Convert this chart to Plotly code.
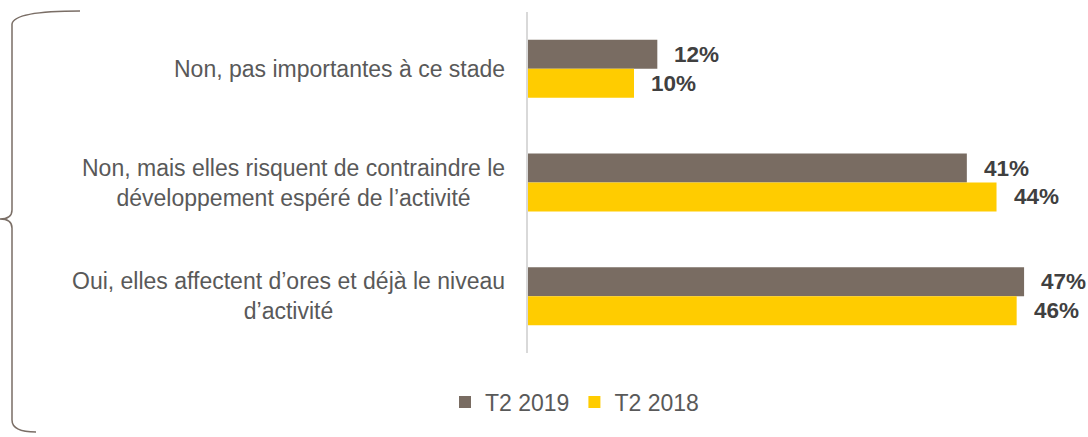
import plotly.graph_objects as go

# ---- data ----
categories = [
    "Non, pas importantes à ce stade",
    "Non, mais elles risquent de contraindre le<br>développement espéré de l’activité",
    "Oui, elles affectent d’ores et déjà le niveau<br>d’activité",
]
series_names = ["T2 2019", "T2 2018"]
values_2019 = [12.2, 41.4, 46.8]
values_2018 = [10.0, 44.2, 46.1]
labels_2019 = ["12%", "41%", "47%"]
labels_2018 = ["10%", "44%", "46%"]

colors = ["#796c62", "#ffcc00"]

W, H = 1088, 437
L, R, T, B = 528, 8, 12, 84
BARGAP = 0.49
FONT = "Liberation Sans, Arial, sans-serif"

fig = go.Figure()
cat_ids = list(range(len(categories)))
for name, vals, col in zip(series_names, [values_2019, values_2018], colors):
    fig.add_trace(go.Bar(
        y=cat_ids, x=vals, name=name, orientation="h",
        marker=dict(color=col, line=dict(width=0)),
        hoverinfo="skip",
    ))

# value labels
off = (1 - BARGAP) / 4
annotations = []
for k, (vals, labs) in enumerate([(values_2019, labels_2019), (values_2018, labels_2018)]):
    sign = -1 if k == 0 else 1
    for i, (v, lab) in enumerate(zip(vals, labs)):
        annotations.append(dict(
            x=v, y=i + sign * off, xref="x", yref="y", text=lab,
            showarrow=False, xanchor="left", yanchor="middle", xshift=15,
            font=dict(family=FONT, size=22.5, color="#404040", weight="bold"),
        ))

# category labels (centered multi-line)
for i, c in enumerate(categories):
    annotations.append(dict(
        x=0, y=i, xref="paper", yref="y", text=c, showarrow=False,
        xanchor="right", yanchor="middle", align="center", xshift=-21,
        font=dict(family=FONT, size=23, color="#595959"),
    ))

# brace on the left (pixel -> paper)
pw, ph = W - L - R, H - T - B
def px(x):
    return (x - L) / pw
def py(y):
    return (H - B - y) / ph

pts = [
    ("M", [(80, 11)]),
    ("Q", [(14, 11), (12, 24)]),
    ("L", [(12, 210)]),
    ("Q", [(12, 219), (0, 219)]),
    ("Q", [(12, 219), (12, 228)]),
    ("L", [(12, 420)]),
    ("Q", [(12, 432), (36, 432)]),
]
path = " ".join(cmd + " " + " ".join(f"{px(a):.5f},{py(b):.5f}" for a, b in p) for cmd, p in pts)

fig.update_layout(
    width=W, height=H,
    margin=dict(l=L, r=R, t=T, b=B, autoexpand=False),
    paper_bgcolor="white", plot_bgcolor="white",
    barmode="group", bargap=BARGAP, bargroupgap=0,
    font=dict(family=FONT, color="#595959"),
    xaxis=dict(range=[0, pw / 10.6], visible=False, fixedrange=True),
    yaxis=dict(
        range=[len(categories) - 0.5, -0.5], showticklabels=False, ticks="",
        showgrid=False, zeroline=False, showline=True,
        linecolor="#d9d9d9", linewidth=1.5, fixedrange=True,
    ),
    showlegend=True,
    legend=dict(
        orientation="h", x=px(445), xanchor="left", y=py(402), yanchor="middle",
        font=dict(family=FONT, size=23, color="#595959"),
        itemwidth=30, traceorder="normal",
    ),
    annotations=annotations,
    shapes=[dict(type="path", path=path, xref="paper", yref="paper",
                 line=dict(color="#7a6e66", width=1.5))],
)

fig.write_html("out.html", config={"displayModeBar": False},
               post_script="document.body.style.margin='0';document.body.style.overflow='hidden';")
